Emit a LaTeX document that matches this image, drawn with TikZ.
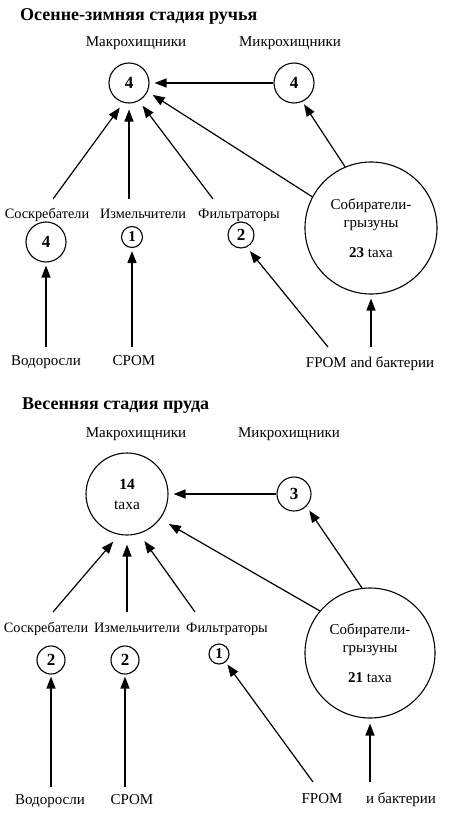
\documentclass[tikz,border=0pt]{standalone}
\usepackage{fontspec}
\setmainfont{Liberation Serif}
\usetikzlibrary{arrows.meta,calc}
\begin{document}
\begin{tikzpicture}[x=1pt,y=-1pt,
  lab/.style={font=\fontsize{15}{17}\selectfont, anchor=base, inner sep=0pt},
  glab/.style={font=\fontsize{14.3}{17}\selectfont, anchor=base, inner sep=0pt},
  ttl/.style={font=\fontsize{18}{20}\selectfont\bfseries, anchor=base west, inner sep=0pt},
  num/.style={circle, draw, line width=1.1pt, inner sep=0pt, font=\fontsize{17}{17}\selectfont},
  arr/.style={line width=1.2pt, -{Triangle[length=12pt,width=9pt]}},
  ]
\useasboundingbox (0,0) rectangle (450,813);
% ---------------- top section ----------------
\node[ttl] (t1) at (20,21) {Осенне-зимняя стадия ручья};
\node[lab] (lmacA) at (136,47) {Макрохищники};
\node[lab] (lmicA) at (290,47) {Микрохищники};
\node[num, minimum size=40pt] (A) at (129,83) {\textbf{4}};
\node[num, minimum size=40pt] (B) at (294,83) {\textbf{4}};
\node[num, minimum size=132pt, align=center, font=\fontsize{15}{18}\selectfont] (C) at (371,228) {Собиратели-\\грызуны\\[12pt]\textbf{23} taxa};
\node[glab] (lscrA) at (47,218) {Соскребатели};
\node[glab] (lshrA) at (143,218) {Измельчители};
\node[glab] (lfilA) at (239,218) {Фильтраторы};
\node[num, minimum size=40pt] (S1) at (46,242) {\textbf{4}};
\node[num, minimum size=21pt, font=\fontsize{15}{17}\selectfont] (Sh1) at (132,237) {\textbf{1}};
\node[num, minimum size=26pt] (F1) at (241,235) {\textbf{2}};
\node[lab] (algA) at (46,365) {Водоросли};
\node[lab] (cpomA) at (134,365) {CPOM};
\node[lab] (fpomA) at (370,367) {FPOM and бактерии};
\coordinate (sa1) at (53,199);
\coordinate (sa2) at (129,199);
\coordinate (sa3) at (213,199);
\coordinate (ua1) at (46,347);
\coordinate (ua2) at (132,347);
\coordinate (ua3) at (328,347);
\coordinate (ua4) at (371,347);
\draw[arr, shorten >=5pt] (B.west) -- (A.east);
\draw[arr, shorten >=3pt] (C.113) -- (B.294);
\draw[arr, shorten >=6pt] (C.152) -- (A.335);
\draw[arr, shorten >=6pt] (sa1) -- (A.254);
\draw[arr, shorten >=6pt] (sa2) -- (A.south);
\draw[arr, shorten >=6pt] (sa3) -- (A.299);
\draw[arr, shorten >=3pt] (ua1) -- (S1.south);
\draw[arr, shorten >=3pt] (ua2) -- (Sh1.south);
\draw[arr, shorten >=5pt] (ua3) -- (F1.295);
\draw[arr, shorten >=4pt] (ua4) -- (C.south);
% ---------------- bottom section ----------------
\node[ttl] (t2) at (22,409) {Весенняя стадия пруда};
\node[lab] (lmacB) at (136,437) {Макрохищники};
\node[lab] (lmicB) at (289,437) {Микрохищники};
\node[num, minimum size=82pt, align=center, font=\fontsize{15.5}{20}\selectfont] (A2) at (127,494) {\textbf{14}\\taxa};
\node[num, minimum size=34pt] (B2) at (294,494) {\textbf{3}};
\node[num, minimum size=130pt, align=center, font=\fontsize{15}{18}\selectfont] (C2) at (370,653) {Собиратели-\\грызуны\\[12pt]\textbf{21} taxa};
\node[glab] (lscrB) at (46,632) {Соскребатели};
\node[glab] (lshrB) at (137,632) {Измельчители};
\node[glab] (lfilB) at (227,632) {Фильтраторы};
\node[num, minimum size=28pt] (S2) at (51,660) {\textbf{2}};
\node[num, minimum size=28pt] (Sh2) at (125,660) {\textbf{2}};
\node[num, minimum size=20pt, font=\fontsize{15}{17}\selectfont] (F2) at (219,654) {\textbf{1}};
\node[lab] (algB) at (50,804) {Водоросли};
\node[lab] (cpomB) at (132,804) {CPOM};
\node[lab] (fpomB) at (322,803) {FPOM};
\node[lab] (bactB) at (401,803) {и бактерии};
\coordinate (sb1) at (53,612);
\coordinate (sb2) at (127,612);
\coordinate (sb3) at (195,612);
\coordinate (ub1) at (51,787);
\coordinate (ub2) at (125,787);
\coordinate (ub3) at (313,782);
\coordinate (ub4) at (370,782);
\draw[arr, shorten >=5pt] (B2.west) -- (A2.east);
\draw[arr, shorten >=5pt] (C2.97) -- (B2.315);
\draw[arr, shorten >=10pt] (C2.140) -- (A2.323);
\draw[arr, shorten >=9pt] (sb1) -- (A2.259);
\draw[arr, shorten >=9pt] (sb2) -- (A2.south);
\draw[arr, shorten >=9pt] (sb3) -- (A2.287);
\draw[arr, shorten >=2pt] (ub1) -- (S2.south);
\draw[arr, shorten >=2pt] (ub2) -- (Sh2.south);
\draw[arr, shorten >=3pt] (ub3) -- (F2.309);
\draw[arr, shorten >=5pt] (ub4) -- (C2.south);
\end{tikzpicture}
\end{document}
